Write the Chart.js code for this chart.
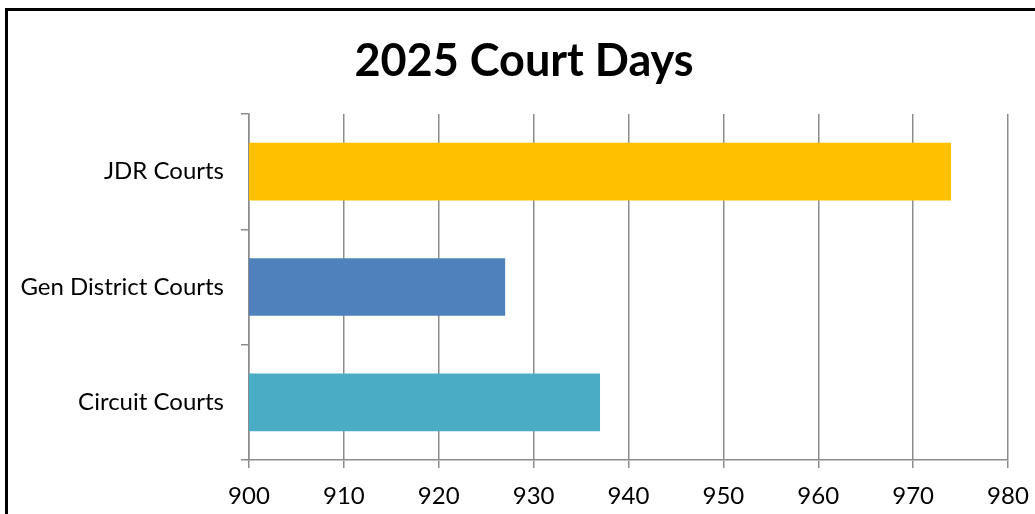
<!DOCTYPE html>
<html>
<head>
<meta charset="utf-8">
<script src="https://cdn.jsdelivr.net/npm/chart.js@4"></script>
<style>
  html, body { margin: 0; padding: 0; background: #fff; }
  #wrap { width: 1035px; height: 514px; position: relative; }
</style>
</head>
<body>
<div id="wrap"><canvas id="chart-1"></canvas></div>
<script>
const courts = ['JDR Courts', 'Gen District Courts', 'Circuit Courts'];
const courtDays = [974, 927, 937];
const barColors = ['#FFC000', '#4F81BD', '#4BACC6'];
const axisMin = 900;
const axisMax = 980;
const axisStep = 10;

const gridGray = '#8C8C8C';
const font = "Lato, 'Open Sans', sans-serif";

// black frame around the chart, cropped on right/bottom like the picture
const framePlugin = {
    id: 'frame',
    afterDraw(chart) {
        const ctx = chart.ctx;
        ctx.save();
        ctx.strokeStyle = '#000';
        ctx.lineWidth = 3;
        ctx.strokeRect(6.5, 9.5, 1200, 700);
        ctx.restore();
    }
};

const data = {
    labels: courts,
    datasets: [
        {
            label: '2025 Court Days',
            data: courtDays,
            backgroundColor: barColors,
            borderWidth: 0,
            barPercentage: 1,
            categoryPercentage: 0.5
        }
    ]
};

const config = {
    type: 'bar',
    data: data,
    options: {
        indexAxis: 'y',
        responsive: true,
        maintainAspectRatio: false,
        animation: false,
        layout: { padding: { left: 20, right: 7, top: 0, bottom: 0 } },
        plugins: {
            legend: { display: false },
            tooltip: { enabled: false },
            title: {
                display: true,
                text: '2025 Court Days',
                color: '#000',
                font: { family: font, size: 45, weight: 'bold', lineHeight: 1.2 },
                padding: { top: 34, bottom: 26 }
            }
        },
        scales: {
            x: {
                min: axisMin,
                max: axisMax,
                ticks: {
                    stepSize: axisStep,
                    color: '#000',
                    padding: 14,
                    font: { family: font, size: 24 }
                },
                grid: {
                    color: gridGray,
                    lineWidth: 1.5,
                    tickLength: 8
                },
                border: { color: gridGray, width: 1.5 },
                afterFit(scale) {
                    scale.height = 54;
                    scale.paddingRight = 27;
                }
            },
            y: {
                ticks: {
                    color: '#000',
                    padding: 17,
                    font: { family: font, size: 24 }
                },
                grid: {
                    drawOnChartArea: false,
                    color: gridGray,
                    lineWidth: 1.5,
                    tickLength: 8
                },
                border: { color: gridGray, width: 1.5 },
                afterFit(scale) { scale.width = 229; }
            }
        }
    },
    plugins: [framePlugin]
};

const ctx = document.getElementById('chart-1').getContext('2d');
new Chart(ctx, config);
</script>
</body>
</html>
